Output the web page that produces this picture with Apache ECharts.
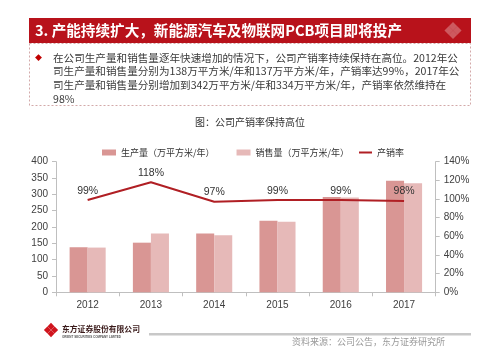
<!DOCTYPE html>
<html><head><meta charset="utf-8">
<script src="https://cdn.jsdelivr.net/npm/echarts@6/dist/echarts.min.js"></script>
<style>html,body{margin:0;padding:0;background:#fff}#c{width:500px;height:362px}</style>
</head><body><div id="c"></div>
<script>
var years = ['2012','2013','2014','2015','2016','2017'];
var production = [138, 152, 180, 219, 292, 342];
var sales = [137, 180, 175, 216, 290, 334];
var rate = [99, 118, 97, 99, 99, 98];
var leftTicks = {min: 0, max: 400, interval: 50};
var rightTicks = {min: 0, max: 140, interval: 20};

var CJK = '"Noto Sans CJK SC","Liberation Sans",sans-serif';
var NUM = '"Liberation Sans","Noto Sans CJK SC",sans-serif';
var chart = echarts.init(document.getElementById('c'), null, {renderer: 'canvas'});

function logo(cx, cy, s, color, opacity) {
  var parts = [];
  var offs = [[0,-1],[1,0],[0,1],[-1,0]];
  offs.forEach(function (o) {
    parts.push({
      type: 'rect', x: cx + o[0]*s*0.72 - s/2, y: cy + o[1]*s*0.72 - s/2,
      shape: {x: 0, y: 0, width: s, height: s},
      originX: s/2, originY: s/2, rotation: Math.PI/4,
      style: {fill: color, opacity: opacity}, silent: true
    });
  });
  return parts;
}

var graphics = [
  {type: 'rect', shape: {x: 29, y: 18, width: 442, height: 25}, style: {fill: '#b8121b'}},
  {type: 'text', x: 35, y: 30.5, style: {text: '3. 产能持续扩大，新能源汽车及物联网PCB项目即将投产', fill: '#fff', font: 'bold 14.6px ' + CJK, verticalAlign: 'middle'}},
  {type: 'rect', shape: {x: 29.5, y: 43.5, width: 441, height: 62}, style: {fill: 'none', stroke: '#d3a9a9', lineWidth: 1, lineDash: [2, 2]}},
  {type: 'text', x: 35, y: 57, style: {text: '◆', fill: '#c00000', font: '7px ' + CJK, verticalAlign: 'middle'}},
  {type: 'text', x: 53, y: 51, style: {
    text: '在公司生产量和销售量逐年快速增加的情况下，公司产销率持续保持在高位。2012年公\n司生产量和销售量分别为138万平方米/年和137万平方米/年，产销率达99%，2017年公\n司生产量和销售量分别增加到342万平方米/年和334万平方米/年，产销率依然维持在\n98%',
    fill: '#3a3a3a', font: '10.6px ' + CJK, lineHeight: 13.6}},
  {type: 'text', x: 250, y: 122, style: {text: '图：公司产销率保持高位', fill: '#333', font: '10px ' + CJK, align: 'center', verticalAlign: 'middle'}},
  {type: 'text', x: 62, y: 329.5, style: {text: '东方证券股份有限公司', fill: '#3a1a1a', font: 'bold 7.8px ' + CJK, verticalAlign: 'middle'}},
  {type: 'text', x: 62, y: 337, style: {text: 'ORIENT SECURITIES COMPANY LIMITED', fill: '#555', font: 'bold 3px ' + NUM, verticalAlign: 'middle'}},
  {type: 'rect', shape: {x: 149, y: 333, width: 322, height: 2.5}, style: {fill: '#c8c8c8'}},
  {type: 'text', x: 292, y: 342, style: {text: '资料来源：公司公告，东方证券研究所', fill: '#999', font: '9px ' + CJK, verticalAlign: 'middle'}}
].concat(logo(51, 330, 5, '#d0141d', 1)).concat(logo(453, 30.5, 6, '#ffffff', 0.3));

chart.setOption({
  backgroundColor: '#fff',
  animation: false,
  graphic: graphics,
  legend: [
    {left: 97, top: 143, itemWidth: 14, itemHeight: 6, itemGap: 22, icon: 'rect',
     textStyle: {fontSize: 9, color: '#333', fontFamily: CJK},
     data: ['生产量（万平方米/年）', '销售量（万平方米/年）']},
    {left: 354, top: 143, itemWidth: 13, itemHeight: 2, icon: 'rect',
     textStyle: {fontSize: 9, color: '#333', fontFamily: CJK},
     data: ['产销率']}
  ],
  grid: {left: 56, right: 64.3, top: 161.7, bottom: 69.7},
  xAxis: {
    type: 'category', data: years, boundaryGap: true,
    axisLine: {lineStyle: {color: '#bfbfbf'}},
    axisTick: {show: true, alignWithLabel: false, length: 4, lineStyle: {color: '#bfbfbf'}},
    axisLabel: {color: '#404040', fontSize: 10, fontFamily: NUM, margin: 8}
  },
  yAxis: [
    {type: 'value', min: leftTicks.min, max: leftTicks.max, interval: leftTicks.interval,
     axisLine: {show: true, lineStyle: {color: '#bfbfbf'}},
     axisTick: {show: true, length: 4, lineStyle: {color: '#bfbfbf'}},
     splitLine: {show: false},
     axisLabel: {color: '#404040', fontSize: 10, fontFamily: NUM, margin: 8}},
    {type: 'value', min: rightTicks.min, max: rightTicks.max, interval: rightTicks.interval,
     position: 'right',
     axisLine: {show: true, lineStyle: {color: '#bfbfbf'}},
     axisTick: {show: true, length: 4, lineStyle: {color: '#bfbfbf'}},
     splitLine: {show: false},
     axisLabel: {color: '#404040', fontSize: 10, fontFamily: NUM, margin: 8, formatter: '{value}%'}}
  ],
  series: [
    {name: '生产量（万平方米/年）', type: 'bar', data: production, barGap: '0%', barCategoryGap: '43%',
     itemStyle: {color: '#d99694'}},
    {name: '销售量（万平方米/年）', type: 'bar', data: sales, barGap: '0%', barCategoryGap: '43%',
     itemStyle: {color: '#e6b9b8'}},
    {name: '产销率', type: 'line', yAxisIndex: 1, data: rate, symbol: 'circle', symbolSize: 0.1, showSymbol: true,
     lineStyle: {color: '#b01f24', width: 2}, itemStyle: {color: '#b01f24'},
     label: {show: true, position: 'top', distance: 4, formatter: '{c}%', fontSize: 10.5, color: '#333', fontFamily: NUM}}
  ]
});
</script>
</body></html>
